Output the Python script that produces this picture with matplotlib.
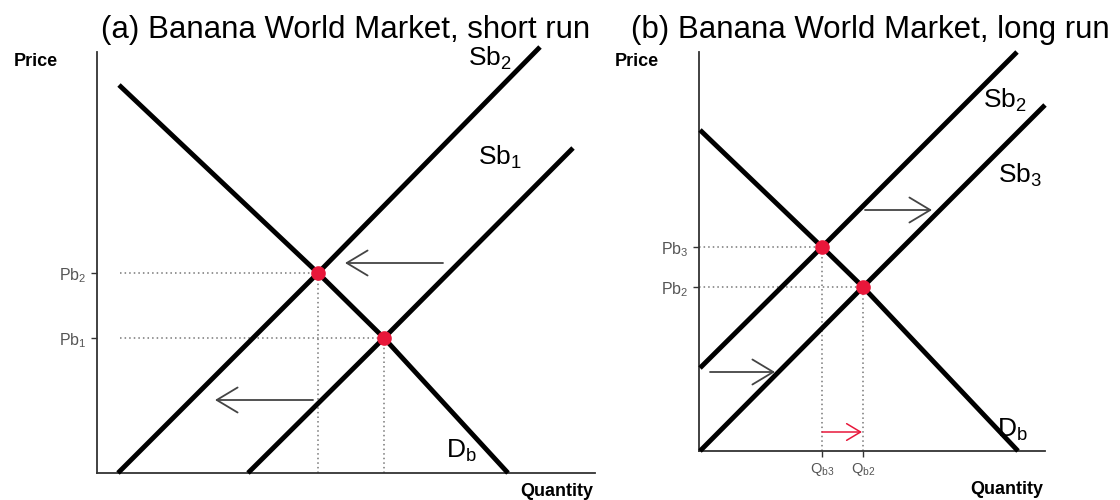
import matplotlib
matplotlib.use("Agg")
import matplotlib.pyplot as plt

plt.rcParams['font.family'] = ['Liberation Sans', 'DejaVu Sans']
plt.rcParams['mathtext.fontset'] = 'custom'
plt.rcParams['mathtext.rm'] = 'Liberation Sans'
plt.rcParams['mathtext.it'] = 'Liberation Sans:italic'

# ---- panel (a): short run ----
a_demand_q = [22, 221, 287, 411]
a_demand_p = [388, 200, 135, 0]
a_sb2_q = [21, 221, 443]
a_sb2_p = [0, 200, 426]
a_sb1_q = [151, 287, 476]
a_sb1_p = [0, 135, 325]
a_eq_q = [287, 221]          # equilibrium with Sb1, with Sb2
a_eq_p = [135, 200]
a_ticks = [r'Pb$_1$', r'Pb$_2$']

# ---- panel (b): long run ----
b_demand_q = [1, 123, 164, 319]
b_demand_p = [321, 204, 164, 0]
b_sb2_q = [1, 123, 318]
b_sb2_p = [83, 204, 399]
b_sb3_q = [1, 164, 346]
b_sb3_p = [0, 164, 346]
b_eq_q = [123, 164]          # equilibrium with Sb2, with Sb3
b_eq_p = [204, 164]
b_pticks = [r'Pb$_3$', r'Pb$_2$']
b_qticks = [r'Q$_{\mathrm{b3}}$', r'Q$_{\mathrm{b2}}$']

red = '#e8173a'
grey = '#555555'

fig = plt.figure(figsize=(11.2, 5), dpi=100)
axL = fig.add_axes([97/1120, 27/500, 498/1120, 421/500])
axR = fig.add_axes([699/1120, 49/500, 346/1120, 399/500])
axL.set_xlim(0, 498); axL.set_ylim(0, 421)
axR.set_xlim(0, 346); axR.set_ylim(0, 399)

for ax in (axL, axR):
    for s in ('top', 'right'):
        ax.spines[s].set_visible(False)
    for s in ('left', 'bottom'):
        ax.spines[s].set_color('#333333')
        ax.spines[s].set_linewidth(1.3)
    ax.tick_params(colors='#333333', labelcolor=grey, labelsize=11.5, length=4, width=1)

curve = dict(color='black', lw=3.5, solid_capstyle='butt', clip_on=False, zorder=3)
dot = dict(marker='o', ms=9.5, color=red, ls='none', zorder=5, clip_on=False)
guide = dict(color='#777777', lw=1.1, ls=(0, (1, 2)), zorder=1)

# panel (a)
axL.plot(a_demand_q, a_demand_p, **curve)
axL.plot(a_sb2_q, a_sb2_p, **curve)
axL.plot(a_sb1_q, a_sb1_p, **curve)
for q, p in zip(a_eq_q, a_eq_p):
    axL.plot([23, q], [p, p], **guide)
    axL.plot([q, q], [0, p], **guide)
axL.plot(a_eq_q, a_eq_p, **dot)
axL.set_xticks([])
axL.set_yticks(a_eq_p, a_ticks)

arrow = dict(arrowstyle='->,head_length=0.75,head_width=0.45', color='#444444', lw=1.3,
             mutation_scale=20, shrinkA=0, shrinkB=0)
axL.annotate('', xy=(248, 210), xytext=(346, 210), arrowprops=arrow)
axL.annotate('', xy=(118, 73), xytext=(216, 73), arrowprops=arrow)

lab = dict(fontsize=19, ha='center', va='center', color='black')
axL.text(393, 415, r'Sb$_2$', **lab)
axL.text(403, 316, r'Sb$_1$', **lab)
axL.text(364, 22, r'D$_\mathrm{b}$', **lab)

# panel (b)
axR.plot(b_demand_q, b_demand_p, **curve)
axR.plot(b_sb2_q, b_sb2_p, **curve)
axR.plot(b_sb3_q, b_sb3_p, **curve)
for q, p in zip(b_eq_q, b_eq_p):
    axR.plot([0, q], [p, p], **guide)
    axR.plot([q, q], [0, p], **guide)
axR.plot(b_eq_q, b_eq_p, **dot)
axR.set_yticks(b_eq_p, b_pticks)
axR.set_xticks(b_eq_q, b_qticks)
axR.tick_params(axis='x', labelsize=10.5)

axR.annotate('', xy=(233, 241), xytext=(166, 241), arrowprops=arrow)
axR.annotate('', xy=(76, 79), xytext=(11, 79), arrowprops=arrow)
axR.annotate('', xy=(163, 19), xytext=(123, 19),
             arrowprops=dict(arrowstyle='->,head_length=0.5,head_width=0.3', color=red,
                             lw=1.1, mutation_scale=20, shrinkA=0, shrinkB=0))

axR.text(306, 351, r'Sb$_2$', **lab)
axR.text(321, 276, r'Sb$_3$', **lab)
axR.text(313, 21, r'D$_\mathrm{b}$', **lab)

# titles and axis names
fig.text(346/1120, 1 - 38/500, '(a) Banana World Market, short run', fontsize=22.5,
         ha='center', va='baseline')
fig.text(870/1120, 1 - 38/500, '(b) Banana World Market, long run', fontsize=22.5,
         ha='center', va='baseline')
for x in (14, 615):
    fig.text(x/1120, 1 - 61/500, 'Price', fontsize=13, weight='bold', va='center')
fig.text(593/1120, 1 - 492/500, 'Quantity', fontsize=13, weight='bold', ha='right', va='center')
fig.text(1043/1120, 1 - 490/500, 'Quantity', fontsize=13, weight='bold', ha='right', va='center')

fig.savefig('out.png', dpi=100)
